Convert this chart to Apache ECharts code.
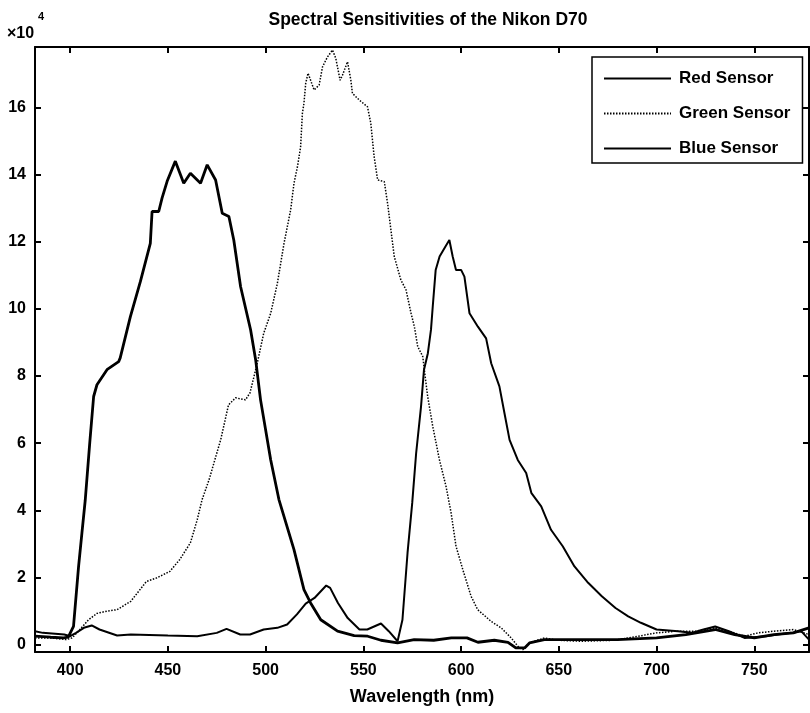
<!DOCTYPE html>
<html>
<head>
<meta charset="utf-8">
<script src="https://cdn.jsdelivr.net/npm/echarts@6/dist/echarts.min.js"></script>
<style>
html,body{margin:0;padding:0;background:#fff;}
#chart{width:810px;height:713px;}
</style>
</head>
<body>
<div id="chart"></div>
<script>
// ---- Data (values in units of 10^4) ----
const xTicks = [400, 450, 500, 550, 600, 650, 700, 750];
const yTicks = [0, 2, 4, 6, 8, 10, 12, 14, 16];
const seriesNames = ['Red Sensor', 'Green Sensor', 'Blue Sensor'];

const redNm = [382,386,397,400,403,407,411,415,424,431,450,465,475,480,487,492,499,506,511,516,520.5,525,531,533,537,542,548,552,559,563,567.5,570,572.6,575,577,579.5,581,583,584.6,585.5,587,589,592,594,595.7,597.4,600,601.7,604.3,608.6,612.8,615.4,619.6,622.2,624.8,629,633.3,636,641,646,652,658,665,672,679,685.5,692,700,711,718,724,730,737,745,756,762,769,774,778];
const redVal = [0.40,0.35,0.30,0.25,0.35,0.50,0.57,0.45,0.27,0.30,0.27,0.25,0.35,0.47,0.30,0.30,0.45,0.50,0.60,0.90,1.22,1.39,1.76,1.69,1.24,0.79,0.45,0.45,0.63,0.40,0.10,0.74,2.73,4.22,5.70,7.09,8.18,8.68,9.38,10.07,11.16,11.56,11.86,12.05,11.56,11.16,11.16,10.96,9.87,9.47,9.12,8.38,7.69,6.89,6.10,5.50,5.11,4.51,4.12,3.42,2.93,2.33,1.84,1.44,1.09,0.84,0.65,0.45,0.40,0.35,0.45,0.54,0.40,0.20,0.25,0.30,0.35,0.40,0.15];

const greenNm = [382,390,398,401,405,409.4,413.7,419,424,431,439,444,451,456,461.5,465,467.5,471,477,481,484.6,489.7,492,495.7,499,502.6,506,509.4,512.8,514.5,516.3,517.9,518.8,519.6,520.5,521.7,524.8,527.4,529.1,531.6,534.2,535.9,538.1,539.3,541.9,543.6,544.4,547.9,552.1,553.8,555.5,557.3,560.7,562.4,564.1,565.8,569.2,571.8,574.4,576.1,577.8,580.4,581.2,582.9,585.5,588.9,592.3,594.9,597.4,600.9,605.1,608.5,615.4,620.5,625.6,629.1,631.6,635,642.6,649.5,661.5,678.6,690.6,700,710,720,730,737,745,752,760,770,778];
const greenVal = [0.20,0.20,0.15,0.20,0.45,0.74,0.93,1.00,1.04,1.29,1.88,1.98,2.18,2.53,3.03,3.72,4.32,4.90,6.10,7.14,7.35,7.29,7.50,8.38,9.27,9.87,10.76,11.95,12.95,13.74,14.24,14.83,15.82,16.12,16.72,17.02,16.52,16.67,17.21,17.50,17.71,17.46,16.81,16.96,17.36,16.81,16.42,16.22,16.02,15.53,14.54,13.84,13.79,13.14,12.35,11.56,10.86,10.57,9.87,9.47,8.88,8.58,8.18,7.39,6.50,5.51,4.71,3.92,2.93,2.23,1.44,1.04,0.69,0.50,0.20,-0.05,-0.15,0.05,0.20,0.13,0.10,0.13,0.25,0.35,0.40,0.40,0.50,0.40,0.25,0.35,0.40,0.45,0.30];

const blueNm = [382,390,396.6,399,401.7,404.3,406,407.7,410,412,413.7,419,424.8,425.6,430.8,435.9,441,441.9,445.3,447,449.6,453.8,458.1,461.5,466.7,470.1,474.4,477.8,481.2,483.7,487.2,492.3,494.9,497.4,502.6,506.8,514.5,519.6,523,528.2,536.8,545.3,552.2,559,567.5,576,586,595,603,608.6,617,624,628,632.5,635,642.6,660,680,700,715,730,740,750,760,770,778];
const blueVal = [0.25,0.22,0.20,0.22,0.54,2.33,3.32,4.30,6.00,7.39,7.74,8.20,8.43,8.54,9.77,10.81,11.95,12.90,12.90,13.30,13.80,14.40,13.74,14.04,13.74,14.29,13.84,12.85,12.75,12.05,10.66,9.38,8.48,7.29,5.50,4.32,2.83,1.64,1.24,0.74,0.40,0.27,0.25,0.13,0.05,0.15,0.13,0.20,0.20,0.07,0.13,0.07,-0.10,-0.10,0.05,0.15,0.15,0.15,0.20,0.30,0.45,0.30,0.20,0.30,0.35,0.50];

function zip(xs, ys) { return xs.map((x, i) => [x, ys[i]]); }

const chart = echarts.init(document.getElementById('chart'), null, {renderer: 'canvas'});
const FONT = 'Liberation Sans, Arial, sans-serif';

const axisCommon = {
  axisLine: {show: true, onZero: false, lineStyle: {color: '#000', width: 2}},
  splitLine: {show: false}
};
const tickStyle = {color: '#000', width: 2};

const option = {
  backgroundColor: '#fff',
  animation: false,
  title: {
    text: 'Spectral Sensitivities of the Nikon D70',
    left: 423, top: 6, textAlign: 'center',
    textStyle: {fontFamily: FONT, fontSize: 17.5, fontWeight: 'bold', color: '#000'}
  },
  grid: {left: 35, right: 1, top: 47, bottom: 61, containLabel: false},
  legend: {
    orient: 'vertical',
    left: 592, top: 57,
    itemWidth: 67, itemHeight: 14, itemGap: 18,
    padding: [13, 12, 6, 11],
    borderColor: '#000', borderWidth: 1.5,
    backgroundColor: '#fff',
    itemStyle: {color: 'rgba(0,0,0,0)', borderColor: 'rgba(0,0,0,0)', borderWidth: 0, opacity: 0},
    textStyle: {fontFamily: FONT, fontSize: 17, fontWeight: 'bold', color: '#000', padding: [0, 0, 0, 3]},
    data: seriesNames
  },
  xAxis: [{
    type: 'value', position: 'bottom', min: 382, max: 778,
    name: 'Wavelength (nm)', nameLocation: 'middle', nameGap: 36,
    nameTextStyle: {fontFamily: FONT, fontSize: 18, fontWeight: 'bold', color: '#000'},
    ...axisCommon,
    axisTick: {show: true, inside: true, length: 6, lineStyle: tickStyle, customValues: xTicks},
    axisLabel: {show: true, margin: 11, fontFamily: FONT, fontSize: 16, fontWeight: 'bold', color: '#000', customValues: xTicks}
  }, {
    type: 'value', position: 'top', min: 382, max: 778,
    ...axisCommon,
    axisTick: {show: true, inside: true, length: 6, lineStyle: tickStyle, customValues: xTicks},
    axisLabel: {show: false}
  }],
  yAxis: [{
    type: 'value', position: 'left', min: -0.22, max: 17.8,
    ...axisCommon,
    axisTick: {show: true, inside: true, length: 6, lineStyle: tickStyle, customValues: yTicks},
    axisLabel: {show: true, margin: 9, fontFamily: FONT, fontSize: 16, fontWeight: 'bold', color: '#000', customValues: yTicks}
  }, {
    type: 'value', position: 'right', min: -0.22, max: 17.8,
    ...axisCommon,
    axisTick: {show: true, inside: true, length: 6, lineStyle: tickStyle, customValues: yTicks},
    axisLabel: {show: false}
  }],
  graphic: [
    {type: 'text', left: 7, top: 26, style: {text: '×10', fontFamily: FONT, fontSize: 16, fontWeight: 'bold', fill: '#000'}},
    {type: 'text', left: 38, top: 11, style: {text: '4', fontFamily: FONT, fontSize: 11, fontWeight: 'bold', fill: '#000'}}
  ],
  series: [
    {name: seriesNames[0], type: 'line', xAxisIndex: 0, yAxisIndex: 0, showSymbol: false, symbol: 'none',
     lineStyle: {color: '#000', width: 2, type: 'solid'}, itemStyle: {color: '#000'},
     data: zip(redNm, redVal)},
    {name: seriesNames[1], type: 'line', xAxisIndex: 0, yAxisIndex: 0, showSymbol: false, symbol: 'none',
     lineStyle: {color: '#000', width: 1.5, type: [1.5, 1.5]}, itemStyle: {color: '#000'},
     data: zip(greenNm, greenVal)},
    {name: seriesNames[2], type: 'line', xAxisIndex: 0, yAxisIndex: 0, showSymbol: false, symbol: 'none',
     lineStyle: {color: '#000', width: 2.8, type: 'solid'}, itemStyle: {color: '#000'},
     data: zip(blueNm, blueVal)}
  ]
};
chart.setOption(option);
</script>
</body>
</html>
